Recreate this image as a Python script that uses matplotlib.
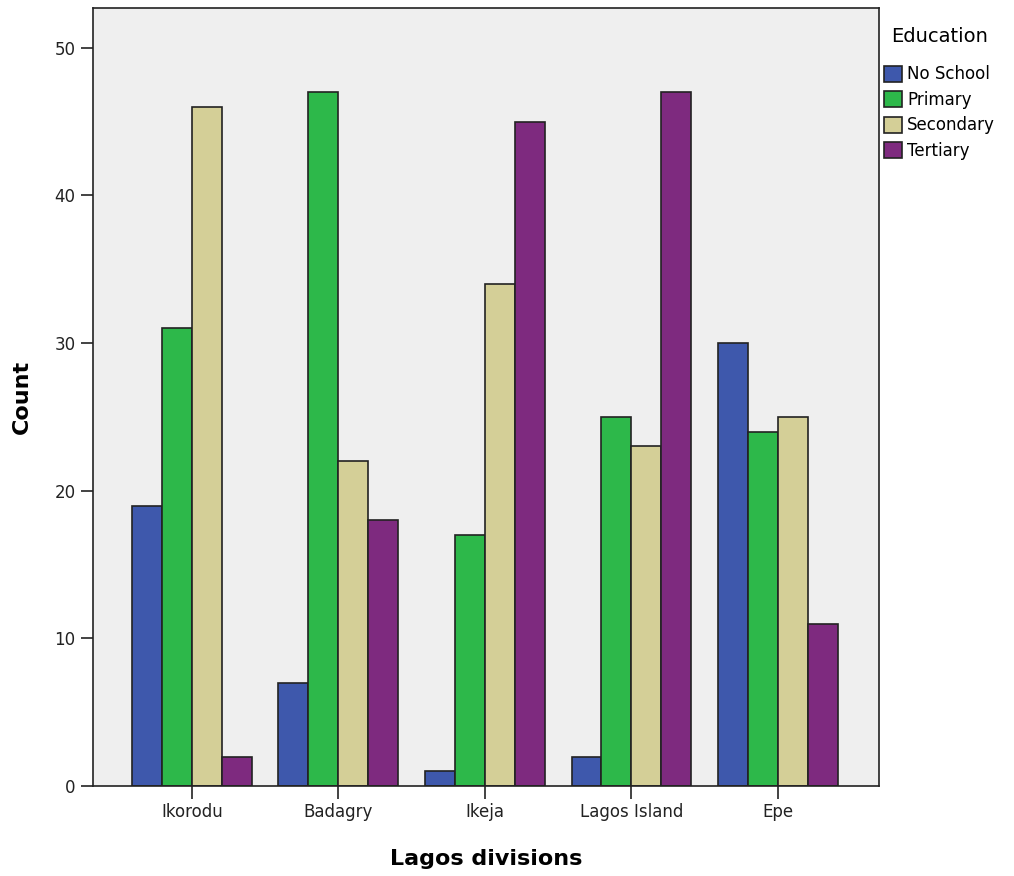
import numpy as np
import matplotlib.pyplot as plt
from matplotlib.patches import Patch

divisions = ['Ikorodu', 'Badagry', 'Ikeja', 'Lagos Island', 'Epe']
levels = ['No School', 'Primary', 'Secondary', 'Tertiary']
no_school = [19, 7, 1, 2, 30]
primary = [31, 47, 17, 25, 24]
secondary = [46, 22, 34, 23, 25]
tertiary = [2, 18, 45, 47, 11]
colors = ['#3e58ac', '#2db84a', '#d4cf97', '#7e2a7f']

series = [no_school, primary, secondary, tertiary]

fig = plt.figure(figsize=(10.14, 8.76), dpi=100)
ax = fig.add_axes([0.0917, 0.1027, 0.7752, 0.8882])
ax.set_facecolor('#efefef')

x = np.arange(len(divisions))
w = 0.2045
for i, (vals, c) in enumerate(zip(series, colors)):
    ax.bar(x + (i - 1.5) * w, vals, w, color=c, edgecolor='#222222', linewidth=1.2)

ax.set_xlim(-0.675, 4.69)
ax.set_ylim(0, 52.7)
ax.set_yticks([0, 10, 20, 30, 40, 50])
ax.set_xticks(x)
ax.set_xticklabels(divisions)
ax.tick_params(length=9, width=1.2, labelsize=12, colors='#222222')
for s in ax.spines.values():
    s.set_linewidth(1.2)
    s.set_color('#222222')

ax.set_xlabel('Lagos divisions', fontsize=16, fontweight='bold', labelpad=20)
ax.set_ylabel('Count', fontsize=16, fontweight='bold', labelpad=16)

handles = [Patch(facecolor=c, edgecolor='#222222', linewidth=1.2) for c in colors]
leg = fig.legend(handles, levels, title='Education', loc='upper left',
                 bbox_to_anchor=(0.865, 0.977), frameon=False, fontsize=12,
                 title_fontsize=14, handlelength=1.1, handleheight=1.1,
                 handletextpad=0.3, labelspacing=0.45, borderaxespad=0)
leg._legend_box.sep = 14

fig.savefig('out.png', dpi=100)
